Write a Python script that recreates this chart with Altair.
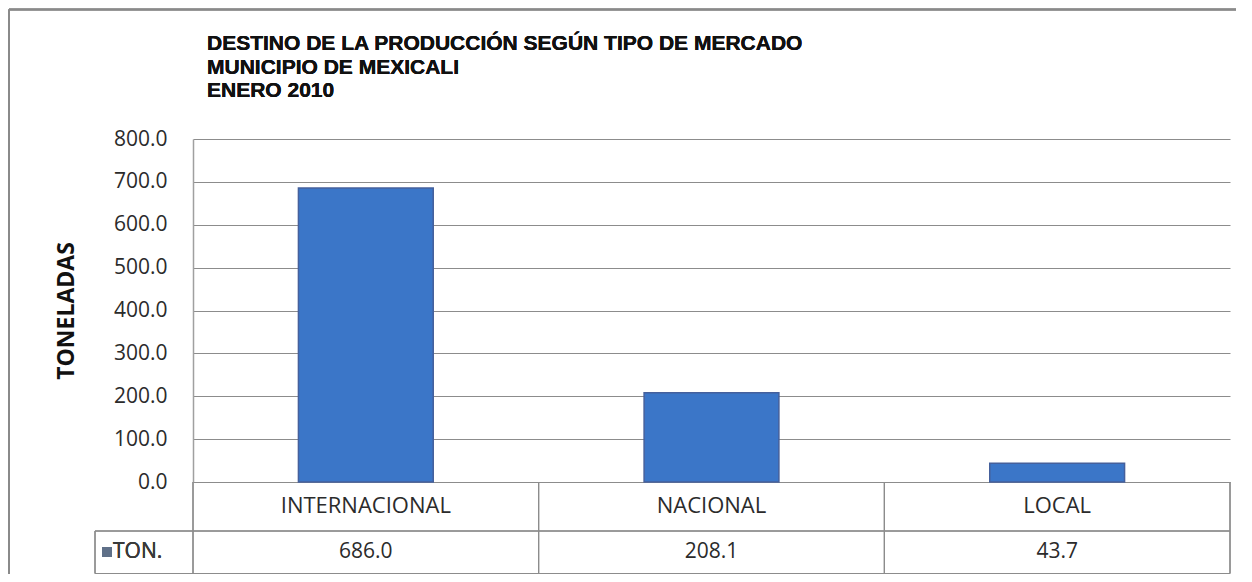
import altair as alt
import pandas as pd

# ---- data ----
categories = ["INTERNACIONAL", "NACIONAL", "LOCAL"]
toneladas = [686.0, 208.1, 43.7]
y_ticks = [0, 100, 200, 300, 400, 500, 600, 700, 800]
title_lines = ["DESTINO DE LA PRODUCCIÓN SEGÚN TIPO DE MERCADO",
               "MUNICIPIO DE MEXICALI",
               "ENERO 2010"]
y_title = "TONELADAS"
series_name = "TON."

df = pd.DataFrame({"mercado": categories, "ton": toneladas})

W, H = 1037, 343
STEP = W / 3.0
GRID = "#8c8c8c"
TXT = "#2b2b2b"
LBL_FONT = "Open Sans"

xscale = alt.Scale(domain=categories, paddingInner=0.61, paddingOuter=0.305)
yscale = alt.Scale(domain=[0, 800], nice=False)

base = alt.Chart(df)

bars = base.mark_bar(color="#3b76c8", stroke="#45609c", strokeWidth=1.5).encode(
    x=alt.X("mercado:N", scale=xscale, sort=categories, axis=None),
    y=alt.Y("ton:Q", scale=yscale,
            axis=alt.Axis(values=y_ticks, format=".1f", grid=True, gridColor=GRID,
                          gridWidth=1, ticks=False, tickSize=0, labelPadding=26,
                          labelFont=LBL_FONT, labelFontSize=21, labelColor=TXT,
                          domainColor="#a0a0a0", domainWidth=1.5,
                          title=y_title, titleFont=LBL_FONT, titleFontSize=23,
                          titleFontWeight="bold", titleColor="#111",
                          titleX=-120, titleY=H / 2, titleAngle=270,
                          titleBaseline="alphabetic", titleAlign="center")),
)

cat_labels = base.mark_text(font=LBL_FONT, fontSize=22, color=TXT, baseline="middle",
                            align="center").encode(
    x=alt.X("mercado:N", scale=xscale, sort=categories, bandPosition=0.5, axis=None),
    y=alt.value(367),
    text="mercado:N",
)

val_labels = base.mark_text(font=LBL_FONT, fontSize=21, color=TXT, baseline="middle",
                            align="center").encode(
    x=alt.X("mercado:N", scale=xscale, sort=categories, bandPosition=0.5, axis=None),
    y=alt.value(413),
    text=alt.Text("ton:Q", format=".1f"),
)


def rule(x1, x2, y1, y2, color=GRID, width=1):
    return alt.Chart(df).mark_rule(color=color, strokeWidth=width).encode(
        x=alt.value(x1), x2=alt.value(x2), y=alt.value(y1), y2=alt.value(y2))


table_lines = [
    rule(-98, W, 392, 392),
    rule(-98, W, 434.5, 434.5),
    rule(0, 0, H, 434.5),
    rule(STEP, STEP, H, 434.5),
    rule(2 * STEP, 2 * STEP, H, 434.5),
    rule(W, W, H, 434.5),
    rule(-98, -98, 392, 434.5),
]

frame = [
    rule(-184, W + 6, -129.5, -129.5, color="#8a8a8a", width=2),
    rule(-184, -184, -129.5, 435, color="#8a8a8a", width=2),
]

legend_key = alt.Chart(df).mark_square(color="#5f7088", size=100, opacity=1).encode(
    x=alt.value(-86), y=alt.value(413))
legend_txt = alt.Chart(df).mark_text(font=LBL_FONT, fontSize=21, color="#3a3a3a",
                                     align="left", baseline="middle").encode(
    x=alt.value(-80), y=alt.value(413), text=alt.value(series_name))

title = alt.Chart(df).mark_text(font="Liberation Sans", fontSize=21, fontWeight="bold",
                                color="#111", align="left", baseline="alphabetic",
                                lineHeight=23.5).encode(
    x=alt.value(14), y=alt.value(50 - 139), text=alt.value(title_lines))

chart = alt.layer(bars, cat_labels, val_labels, *table_lines, *frame, legend_key,
                  legend_txt, title).properties(
    width=W, height=H,
    autosize=alt.AutoSizeParams(type="none"),
    padding={"left": 185, "top": 131, "right": 6, "bottom": 92},
    background="white",
).configure_view(strokeOpacity=0)

chart.save("out.html", embed_options={"renderer": "svg", "actions": False})
